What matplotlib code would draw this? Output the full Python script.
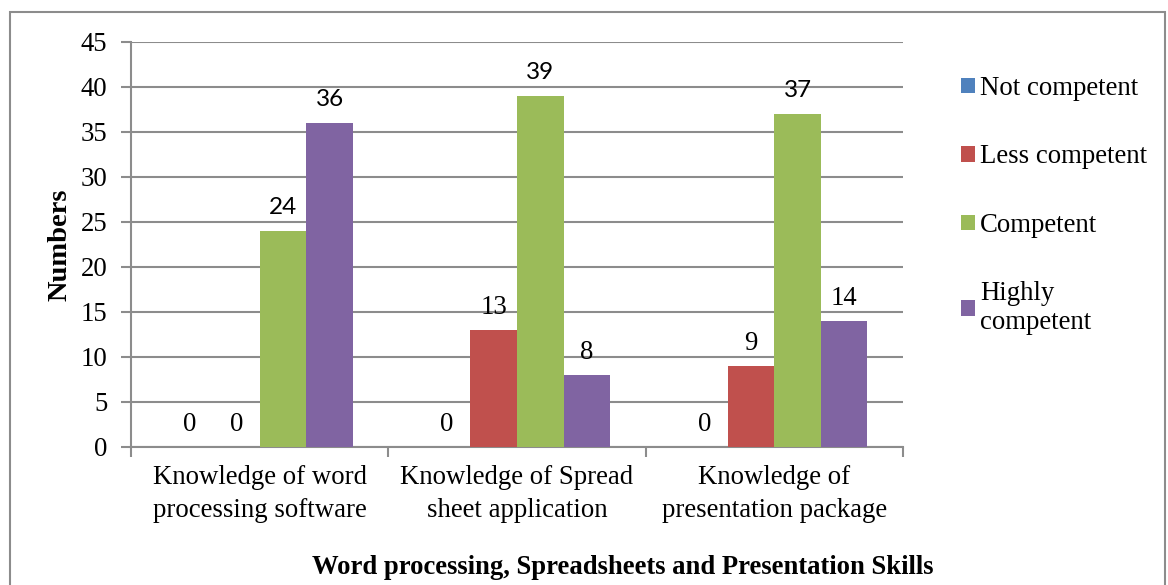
import numpy as np
import matplotlib
matplotlib.use("Agg")
import matplotlib.pyplot as plt
from matplotlib.patches import Rectangle

categories = ["Knowledge of word\nprocessing software",
              "Knowledge of Spread\nsheet application",
              "Knowledge of\npresentation package"]
series = ["Not competent", "Less competent", "Competent", "Highly\ncompetent"]
not_competent = [0, 0, 0]
less_competent = [0, 13, 9]
competent = [24, 39, 37]
highly_competent = [36, 8, 14]

values = [not_competent, less_competent, competent, highly_competent]
colors = ["#4F81BD", "#C0504D", "#9BBB59", "#8064A2"]
# labels that were rendered in a sans font in the original (series, category)
sans_labels = {(2, 0), (3, 0), (2, 1), (2, 2)}

plt.rcParams["font.family"] = ["Liberation Serif", "DejaVu Serif"]
FS = 19.3

fig = plt.figure(figsize=(11.68, 5.85), dpi=100)
ax = fig.add_axes([131 / 1168, 1 - 447 / 585, (903 - 131) / 1168, (447 - 41.7) / 585])

# outer chart border
fig.patches.append(Rectangle((10 / 1168, -0.05), 1155 / 1168, 1.05 - 12 / 585,
                             transform=fig.transFigure, fill=False,
                             edgecolor="#8c8c8c", linewidth=1.5))

x = np.arange(len(categories))
w = 0.181
for i, (vals, c) in enumerate(zip(values, colors)):
    pos = x + (i - 1.5) * w
    ax.bar(pos, vals, width=w, color=c, zorder=3, label=series[i])
    for j, v in enumerate(vals):
        if (i, j) in sans_labels:
            fam, size, off = ["Lato", "DejaVu Sans"], 17.5, 9
        else:
            fam, size, off = ["Liberation Serif"], FS, 7
        ax.annotate(str(v), (pos[j], v), xytext=(0, off), textcoords="offset points",
                    ha="center", va="bottom", fontsize=size, family=fam)

ax.set_xlim(-0.5, 2.5)
ax.set_ylim(0, 45)
ax.set_yticks(range(0, 46, 5))
ax.set_xticks([-0.5, 0.5, 1.5, 2.5], minor=True)
ax.set_xticks(x)
ax.set_xticklabels(categories, fontsize=FS, linespacing=1.4)
ax.tick_params(axis="x", which="major", length=0, pad=13)
ax.tick_params(axis="x", which="minor", length=7, color="#8c8c8c", width=1.5)
ax.tick_params(axis="y", length=7, color="#8c8c8c", width=1.5, labelsize=FS, pad=10)

ax.grid(axis="y", color="#8c8c8c", linewidth=1.5, zorder=0)
for s in ["top", "right"]:
    ax.spines[s].set_visible(False)
ax.spines["left"].set_color("#8c8c8c")
ax.spines["bottom"].set_color("#8c8c8c")
ax.spines["left"].set_linewidth(1.5)
ax.spines["bottom"].set_linewidth(1.5)

ax.set_ylabel("Numbers", fontsize=20.5, fontweight="bold", labelpad=6)
fig.text(623 / 1168, 1 - 567 / 585, "Word processing, Spreadsheets and Presentation Skills",
         ha="center", va="center", fontsize=19.2, fontweight="bold")

ax.legend(loc="upper left", bbox_to_anchor=(961 / 1168, 1 - 76 / 585),
          bbox_transform=fig.transFigure, frameon=False, fontsize=FS,
          handlelength=0.52, handleheight=0.52, handletextpad=0.19,
          labelspacing=1.62, borderaxespad=0, borderpad=0)

fig.savefig("out.png", dpi=100)
